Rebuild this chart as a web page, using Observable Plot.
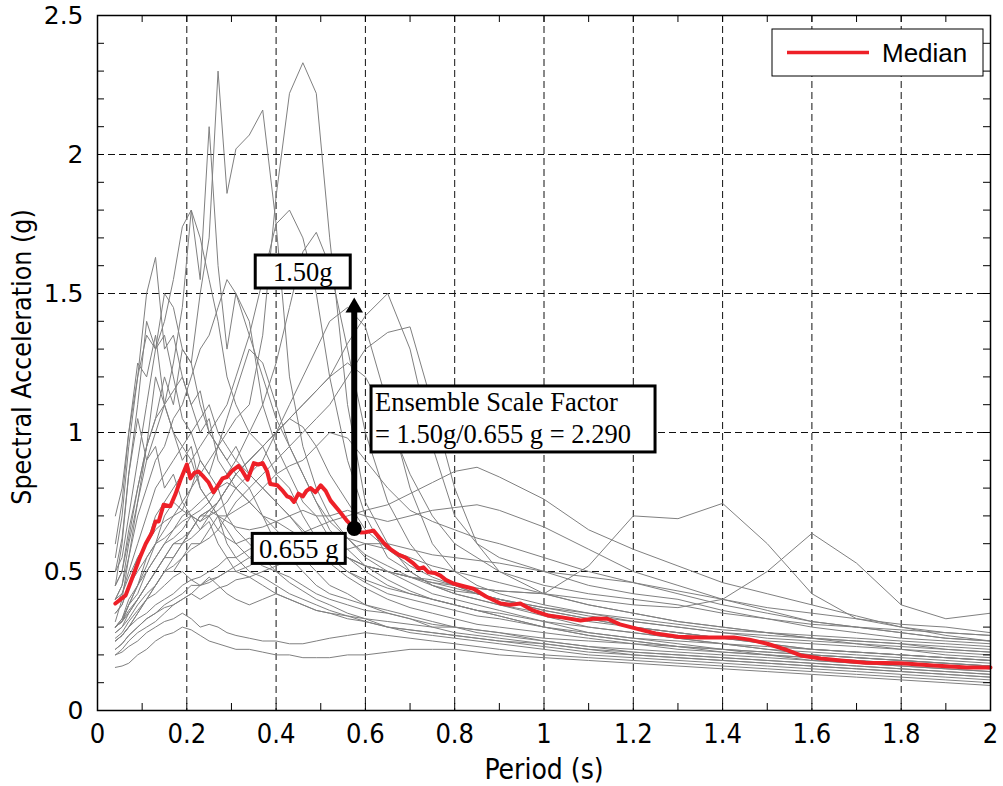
<!DOCTYPE html>
<html><head><meta charset="utf-8">
<script src="https://cdn.jsdelivr.net/npm/d3@7"></script>
<script src="https://cdn.jsdelivr.net/npm/@observablehq/plot@0.6"></script>
<style>
html,body{margin:0;padding:0;background:#fff;}
#chart svg{display:block;}
</style></head><body><div id="chart"></div>
<script>
// ---- data ----
const periods = [0.04,0.055,0.07,0.09,0.11,0.13,0.15,0.17,0.19,0.21,
 0.23,0.25,0.27,0.29,0.31,0.34,0.37,0.40,0.43,0.46,
 0.49,0.52,0.56,0.60,0.65,0.70,0.75,0.80,0.85,0.90,
 1.0,1.1,1.2,1.3,1.4,1.5,1.6,1.7,1.8,1.9,2.0];

const rec01 = [0.45,0.5,0.62,0.8,0.95,1.05,1.2,1.1,1.3,1.25,1.5,1.7,2.30,1.86,2.02,2.07,2.16,1.75,1.2,0.95,0.8,0.7,0.62,0.55,0.5,0.46,0.42,0.4,0.38,0.36,0.32,0.28,0.26,0.24,0.22,0.2,0.18,0.17,0.16,0.15,0.14];
const rec02 = [0.3,0.32,0.38,0.45,0.55,0.6,0.7,0.75,0.72,0.8,0.9,0.85,0.95,1.0,1.05,1.1,1.35,1.85,2.22,2.33,2.22,1.7,1.1,0.75,0.6,0.5,0.45,0.42,0.4,0.38,0.34,0.3,0.28,0.26,0.24,0.22,0.2,0.19,0.18,0.17,0.16];
const rec03 = [0.4,0.45,0.6,0.75,0.9,1.0,1.1,1.25,1.45,1.8,1.55,2.10,1.6,1.3,1.5,1.4,1.1,0.95,0.85,0.75,0.7,0.62,0.55,0.5,0.45,0.42,0.4,0.38,0.36,0.35,0.32,0.3,0.28,0.26,0.24,0.23,0.22,0.21,0.2,0.19,0.18];
const rec04 = [0.5,0.55,0.7,0.9,1.1,1.3,1.4,1.55,1.74,1.80,1.7,1.55,1.4,1.2,1.1,1.0,0.95,0.85,0.8,0.7,0.62,0.55,0.5,0.46,0.42,0.4,0.38,0.36,0.34,0.33,0.3,0.28,0.26,0.25,0.24,0.22,0.21,0.2,0.19,0.18,0.17];
const rec05 = [0.35,0.38,0.45,0.55,0.6,0.7,0.75,0.8,0.85,0.9,0.95,1.0,1.05,1.1,1.2,1.35,1.55,1.75,1.8,1.7,1.5,1.2,0.9,0.7,0.55,0.5,0.45,0.42,0.4,0.38,0.35,0.32,0.3,0.28,0.26,0.24,0.22,0.21,0.2,0.19,0.18];
const rec06 = [0.55,0.7,0.95,1.2,1.5,1.63,1.3,1.35,1.2,1.1,1.0,1.05,0.9,0.85,0.8,0.75,0.7,0.6,0.55,0.5,0.45,0.42,0.4,0.38,0.36,0.34,0.32,0.3,0.29,0.28,0.25,0.23,0.21,0.2,0.19,0.18,0.17,0.16,0.15,0.14,0.13];
const rec07 = [0.3,0.32,0.35,0.4,0.45,0.5,0.55,0.6,0.6,0.65,0.7,0.7,0.75,0.8,0.85,0.9,0.95,1.0,1.05,1.1,1.15,1.2,1.32,1.42,1.50,1.3,0.95,0.7,0.6,0.55,0.5,0.45,0.42,0.4,0.36,0.33,0.3,0.28,0.26,0.25,0.24];
const rec08 = [0.25,0.27,0.3,0.35,0.4,0.45,0.5,0.5,0.55,0.6,0.6,0.65,0.7,0.7,0.75,0.8,0.85,0.9,0.95,1.0,1.05,1.1,1.2,1.3,1.36,1.38,1.1,0.8,0.6,0.5,0.42,0.38,0.35,0.32,0.3,0.28,0.26,0.25,0.24,0.22,0.21];
const rec09 = [0.2,0.22,0.25,0.28,0.3,0.32,0.35,0.38,0.4,0.42,0.45,0.46,0.48,0.5,0.52,0.55,0.58,0.6,0.62,0.64,0.66,0.68,0.7,0.72,0.74,0.78,0.82,0.86,0.875,0.84,0.76,0.65,0.58,0.52,0.46,0.42,0.38,0.34,0.3,0.27,0.25];
const rec10 = [0.25,0.27,0.3,0.33,0.35,0.38,0.4,0.42,0.45,0.47,0.48,0.5,0.52,0.55,0.55,0.58,0.6,0.6,0.62,0.6,0.58,0.56,0.55,0.52,0.5,0.48,0.46,0.45,0.44,0.43,0.42,0.52,0.70,0.69,0.745,0.60,0.42,0.33,0.3,0.28,0.27];
const rec11 = [0.22,0.24,0.27,0.3,0.33,0.35,0.38,0.4,0.42,0.45,0.45,0.47,0.48,0.5,0.5,0.52,0.55,0.55,0.56,0.58,0.6,0.58,0.55,0.52,0.5,0.48,0.47,0.45,0.44,0.43,0.42,0.4,0.38,0.37,0.40,0.50,0.637,0.53,0.38,0.33,0.35];
const rec12 = [0.3,0.33,0.38,0.42,0.5,0.55,0.6,0.62,0.65,0.7,0.68,0.72,0.7,0.68,0.66,0.65,0.66,0.68,0.7,0.72,0.7,0.7,0.72,0.7,0.68,0.7,0.72,0.73,0.74,0.72,0.66,0.58,0.5,0.45,0.4,0.36,0.32,0.3,0.28,0.26,0.25];
const rec13 = [0.6,0.75,1.0,1.2,1.35,1.3,1.5,1.45,1.3,1.25,1.1,1.0,0.95,0.9,0.85,0.8,0.7,0.65,0.6,0.55,0.5,0.45,0.42,0.38,0.35,0.33,0.3,0.28,0.27,0.26,0.24,0.22,0.2,0.19,0.18,0.17,0.16,0.15,0.14,0.13,0.12];
const rec14 = [0.4,0.45,0.55,0.7,0.8,0.9,0.95,1.05,1.1,1.2,1.3,1.35,1.45,1.55,1.5,1.35,1.2,1.05,0.95,0.85,0.75,0.65,0.58,0.52,0.47,0.43,0.4,0.38,0.36,0.34,0.3,0.27,0.25,0.23,0.21,0.2,0.19,0.18,0.17,0.16,0.15];
const rec15 = [0.3,0.33,0.4,0.45,0.5,0.55,0.6,0.65,0.7,0.72,0.75,0.78,0.8,0.85,0.9,1.0,1.1,1.25,1.45,1.65,1.72,1.6,1.3,1.0,0.75,0.6,0.5,0.45,0.42,0.4,0.36,0.33,0.3,0.28,0.26,0.24,0.22,0.21,0.2,0.19,0.18];
const rec16 = [0.28,0.3,0.35,0.4,0.45,0.5,0.55,0.55,0.6,0.62,0.65,0.7,0.72,0.75,0.8,0.85,0.9,1.0,1.1,1.2,1.3,1.4,1.45,1.38,1.1,0.8,0.6,0.5,0.45,0.42,0.38,0.35,0.32,0.3,0.28,0.26,0.25,0.24,0.23,0.22,0.21];
const rec17 = [0.45,0.5,0.65,0.8,0.95,1.05,1.1,1.15,1.2,1.1,1.15,1.0,0.95,0.9,0.95,0.85,0.8,0.75,0.7,0.65,0.6,0.55,0.5,0.47,0.44,0.42,0.4,0.38,0.36,0.34,0.3,0.27,0.25,0.23,0.22,0.21,0.2,0.19,0.18,0.17,0.16];
const rec18 = [0.155,0.16,0.17,0.2,0.22,0.25,0.27,0.28,0.3,0.29,0.27,0.25,0.24,0.23,0.22,0.22,0.21,0.2,0.2,0.19,0.19,0.19,0.2,0.2,0.21,0.22,0.22,0.22,0.21,0.2,0.19,0.18,0.17,0.16,0.15,0.14,0.13,0.12,0.11,0.1,0.09];
const rec19 = [0.2,0.21,0.23,0.25,0.28,0.3,0.32,0.33,0.35,0.33,0.3,0.31,0.3,0.28,0.27,0.26,0.25,0.25,0.24,0.24,0.25,0.26,0.27,0.28,0.27,0.26,0.25,0.24,0.23,0.22,0.2,0.19,0.18,0.17,0.16,0.15,0.14,0.13,0.12,0.11,0.1];
const rec20 = [0.25,0.27,0.3,0.35,0.4,0.42,0.45,0.48,0.5,0.47,0.45,0.48,0.45,0.42,0.4,0.38,0.4,0.42,0.4,0.38,0.36,0.35,0.34,0.33,0.32,0.31,0.3,0.3,0.29,0.28,0.26,0.25,0.24,0.22,0.21,0.2,0.19,0.18,0.17,0.16,0.15];
const rec21 = [0.35,0.38,0.45,0.5,0.55,0.6,0.62,0.65,0.68,0.7,0.72,0.75,0.8,0.82,0.8,0.75,0.7,0.68,0.65,0.62,0.6,0.58,0.55,0.52,0.5,0.48,0.46,0.44,0.42,0.4,0.37,0.34,0.32,0.3,0.28,0.27,0.26,0.25,0.24,0.23,0.22];
const rec22 = [0.5,0.62,0.85,1.1,1.4,1.3,1.35,1.2,1.05,1.0,0.9,0.85,0.8,0.7,0.65,0.6,0.55,0.5,0.48,0.45,0.42,0.4,0.38,0.36,0.35,0.33,0.31,0.3,0.28,0.27,0.25,0.23,0.22,0.21,0.2,0.19,0.18,0.17,0.16,0.15,0.14];
const rec23 = [0.3,0.32,0.38,0.45,0.52,0.6,0.65,0.7,0.75,0.8,0.85,0.9,0.95,1.05,1.15,1.3,1.25,1.1,0.95,0.85,0.75,0.68,0.62,0.56,0.52,0.48,0.45,0.43,0.42,0.4,0.37,0.35,0.33,0.31,0.29,0.28,0.27,0.26,0.25,0.24,0.23];
const rec24 = [0.28,0.3,0.33,0.38,0.42,0.45,0.5,0.52,0.55,0.58,0.6,0.62,0.65,0.7,0.72,0.75,0.8,0.85,0.88,0.9,0.95,1.0,0.98,0.9,0.8,0.72,0.68,0.65,0.62,0.6,0.55,0.5,0.46,0.42,0.38,0.35,0.32,0.3,0.28,0.26,0.25];
const rec25 = [0.7,0.8,1.0,1.25,1.2,1.35,1.1,1.0,0.9,0.95,0.8,0.75,0.7,0.6,0.55,0.5,0.48,0.45,0.42,0.4,0.38,0.36,0.34,0.32,0.3,0.29,0.28,0.27,0.26,0.25,0.23,0.21,0.2,0.19,0.18,0.17,0.16,0.15,0.14,0.13,0.12];
const rec26 = [0.3,0.32,0.36,0.4,0.45,0.5,0.55,0.6,0.62,0.65,0.7,0.72,0.75,0.8,0.85,0.9,0.95,1.0,1.05,1.1,1.15,1.2,1.25,1.2,1.05,0.85,0.7,0.6,0.55,0.5,0.45,0.42,0.4,0.38,0.35,0.33,0.31,0.3,0.29,0.28,0.27];
const rec27 = [0.4,0.42,0.48,0.55,0.6,0.65,0.68,0.7,0.72,0.7,0.68,0.7,0.65,0.62,0.6,0.62,0.6,0.58,0.56,0.55,0.55,0.56,0.58,0.6,0.6,0.58,0.56,0.55,0.54,0.53,0.5,0.48,0.46,0.43,0.4,0.37,0.35,0.33,0.31,0.3,0.28];
const rec28 = [0.32,0.4,0.55,0.75,0.95,1.2,1.1,1.0,0.95,0.9,0.8,0.75,0.7,0.65,0.6,0.55,0.52,0.5,0.46,0.43,0.4,0.38,0.35,0.33,0.3,0.28,0.27,0.26,0.25,0.24,0.22,0.2,0.19,0.18,0.17,0.16,0.15,0.14,0.13,0.12,0.11];
const rec29 = [0.26,0.28,0.32,0.36,0.4,0.45,0.5,0.55,0.6,0.65,0.7,0.72,0.75,0.8,0.85,0.9,0.95,1.0,1.05,1.02,0.95,0.85,0.75,0.65,0.58,0.52,0.48,0.45,0.42,0.4,0.36,0.33,0.3,0.28,0.26,0.25,0.24,0.23,0.22,0.21,0.2];
const rec30 = [0.38,0.42,0.5,0.6,0.7,0.8,0.85,0.9,0.95,1.0,1.05,1.1,1.0,0.95,0.9,0.85,0.8,0.75,0.7,0.64,0.58,0.53,0.48,0.44,0.4,0.37,0.35,0.33,0.31,0.3,0.28,0.26,0.24,0.23,0.22,0.21,0.2,0.19,0.18,0.17,0.16];
const rec31 = [0.22,0.24,0.27,0.3,0.33,0.35,0.37,0.38,0.4,0.42,0.4,0.42,0.44,0.45,0.47,0.48,0.5,0.52,0.54,0.56,0.58,0.6,0.62,0.6,0.58,0.55,0.52,0.5,0.48,0.46,0.42,0.38,0.35,0.32,0.3,0.28,0.26,0.24,0.22,0.2,0.19];
const rec32 = [0.45,0.6,0.85,1.05,0.9,0.95,0.8,0.85,0.75,0.7,0.65,0.68,0.6,0.55,0.5,0.48,0.45,0.42,0.4,0.38,0.36,0.35,0.33,0.32,0.3,0.29,0.28,0.27,0.26,0.25,0.24,0.22,0.21,0.2,0.19,0.18,0.17,0.16,0.15,0.14,0.13];

const records = [rec01,rec02,rec03,rec04,rec05,rec06,rec07,rec08,rec09,rec10,rec11,rec12,rec13,rec14,rec15,rec16,
  rec17,rec18,rec19,rec20,rec21,rec22,rec23,rec24,rec25,rec26,rec27,rec28,rec29,rec30,rec31,rec32];

const medianPeriods = [0.04,0.063,0.081,0.095,0.108,0.122,0.13,0.137,0.148,0.163,0.175,0.186,0.2,0.208,0.217,0.226,0.238,0.249,0.26,0.27,
 0.28,0.29,0.302,0.316,0.325,0.336,0.35,0.36,0.37,0.38,0.387,0.403,0.415,0.425,0.432,0.44,0.45,0.46,0.468,0.477,
 0.488,0.5,0.511,0.522,0.54,0.56,0.575,0.59,0.6,0.618,0.64,0.656,0.675,0.69,0.708,0.72,0.73,0.741,0.755,0.768,
 0.78,0.797,0.82,0.842,0.87,0.903,0.925,0.947,0.975,1.008,1.04,1.082,1.11,1.142,1.17,1.194,1.25,1.3,1.35,1.425,
 1.46,1.5,1.54,1.575,1.62,1.664,1.72,1.8,1.872,1.948,2.0];
const medianSA = [0.385,0.414,0.49,0.55,0.60,0.64,0.68,0.68,0.74,0.735,0.78,0.83,0.885,0.835,0.855,0.86,0.84,0.82,0.785,0.81,
 0.835,0.84,0.863,0.88,0.86,0.83,0.89,0.885,0.89,0.86,0.815,0.81,0.79,0.77,0.766,0.75,0.78,0.77,0.79,0.80,
 0.785,0.81,0.79,0.755,0.72,0.68,0.655,0.64,0.641,0.647,0.605,0.58,0.56,0.55,0.528,0.51,0.515,0.497,0.495,0.485,
 0.47,0.457,0.447,0.438,0.41,0.385,0.38,0.385,0.36,0.342,0.335,0.324,0.33,0.33,0.31,0.30,0.277,0.265,0.263,0.263,
 0.255,0.24,0.22,0.198,0.187,0.18,0.172,0.17,0.162,0.155,0.155];

const xMajorTicks = [0,0.2,0.4,0.6,0.8,1,1.2,1.4,1.6,1.8,2];
const xTickLabels = ["0","0.2","0.4","0.6","0.8","1","1.2","1.4","1.6","1.8","2"];
const xMinorTicks = [0.1,0.2,0.3,0.4,0.5,0.6,0.7,0.8,0.9,1.0,1.1,1.2,1.3,1.4,1.5,1.6,1.7,1.8,1.9];
const yMajorTicks = [0,0.5,1,1.5,2,2.5];
const yTickLabels = ["0","0.5","1","1.5","2","2.5"];
const yMinorTicks = [0.1,0.2,0.3,0.4,0.5,0.6,0.7,0.8,0.9,1.0,1.1,1.2,1.3,1.4,1.5,1.6,1.7,1.8,1.9,2.0,2.1,2.2,2.3,2.4];

const targetSA = 1.50;      // target spectral acceleration
const medianAtT = 0.655;    // median of ensemble at period T
const periodT = 0.575;      // period of interest
const scaleFactor = "2.290";

// ---- layout ----
const W = 1003, H = 786, mL = 97, mR = 13, mT = 15, mB = 76;
const innerW = W - mL - mR, innerH = H - mT - mB;
const sans = "'Liberation Sans', Arial, Helvetica, sans-serif";
const narrow = "'Liberation Sans Narrow', 'Arial Narrow', 'DejaVu Sans Condensed', sans-serif";
const wide = "'DejaVu Sans', Verdana, sans-serif";
const serif = "'Liberation Serif', 'Times New Roman', serif";

const recordRows = records.flatMap((r, i) => r.map((v, j) => ({rec: i, T: periods[j], SA: v})));
const medianRows = medianPeriods.map((t, i) => ({T: t, SA: medianSA[i]}));

const fig = Plot.plot({
  width: W, height: H,
  marginLeft: mL, marginRight: mR, marginTop: mT, marginBottom: mB,
  x: {domain: [0, 2], axis: null},
  y: {domain: [0, 2.5], axis: null},
  style: {background: "white", overflow: "visible"},
  marks: [
    Plot.ruleX(xMajorTicks.slice(1, -1), {x: d => d, stroke: "#111", strokeWidth: 1, strokeDasharray: "7,4"}),
    Plot.ruleY(yMajorTicks.slice(1, -1), {y: d => d, stroke: "#111", strokeWidth: 1, strokeDasharray: "7,4"}),
    Plot.line(recordRows, {x: "T", y: "SA", z: "rec", stroke: "#808080", strokeWidth: 1}),
    Plot.line(medianRows, {x: "T", y: "SA", stroke: "#ee2028", strokeWidth: 4, strokeLinejoin: "round"}),
    Plot.tickX(xMinorTicks, {x: d => d, insetTop: innerH - 7, stroke: "black", strokeWidth: 1}),
    Plot.tickX(xMinorTicks, {x: d => d, insetBottom: innerH - 7, stroke: "black", strokeWidth: 1}),
    Plot.tickY(yMinorTicks, {y: d => d, insetRight: innerW - 7, stroke: "black", strokeWidth: 1}),
    Plot.tickY(yMinorTicks, {y: d => d, insetLeft: innerW - 7, stroke: "black", strokeWidth: 1}),
    Plot.frame({stroke: "black", strokeWidth: 1.5}),
    // arrow from median to target
    Plot.ruleX([periodT], {x: d => d, y1: targetSA, y2: medianAtT, stroke: "black", strokeWidth: 6, insetTop: 14}),
    Plot.dot([periodT], {x: d => d, y: targetSA, symbol: "triangle", r: 6.5, fill: "black", stroke: "none", dy: 14}),
    Plot.dot([periodT], {x: d => d, y: medianAtT, r: 7.5, fill: "black", stroke: "none"}),
    // tick labels
    Plot.text(xTickLabels, {x: (d, i) => xMajorTicks[i], text: d => d, frameAnchor: "bottom", dy: 24,
      lineAnchor: "middle", textAnchor: "middle", fontFamily: narrow, fontSize: 27, fill: "black"}),
    Plot.text(yTickLabels, {y: (d, i) => yMajorTicks[i], text: d => d, frameAnchor: "left", dx: -14, textAnchor: "end",
      lineAnchor: "middle", fontFamily: wide, fontSize: 25, fill: "black"}),
    // axis titles
    Plot.text(["Period (s)"], {text: d => d, frameAnchor: "bottom", dy: 60, lineAnchor: "middle", textAnchor: "middle",
      fontFamily: narrow, fontSize: 28, fill: "black"}),
    Plot.text(["Spectral Acceleration (g)"], {text: d => d, frameAnchor: "left", dx: -75, dy: -6, rotate: -90,
      lineAnchor: "middle", textAnchor: "middle", fontFamily: narrow, fontSize: 26.5, fill: "black"})
  ]
});
document.getElementById("chart").append(fig);

// ---- annotations & legend (positioned through the plot's scales) ----
const sx = fig.scale("x"), sy = fig.scale("y");
const svg = d3.select(fig);
const ann = svg.append("g").attr("class", "annotations");

function labelBox(cx, cy, w, h, lines, anchor, tx, baselines) {
  const g = ann.append("g");
  g.append("rect").attr("x", cx - w / 2).attr("y", cy - h / 2).attr("width", w).attr("height", h)
    .attr("fill", "white").attr("stroke", "black").attr("stroke-width", 3);
  lines.forEach((s, i) => {
    g.append("text").attr("x", tx).attr("y", baselines[i]).attr("text-anchor", anchor)
      .attr("font-family", serif).attr("font-size", 26.5).attr("fill", "black").text(s);
  });
}
const px = sx.apply(periodT);
const pyTarget = sy.apply(targetSA);
const pyMedian = sy.apply(medianAtT);
const pyMid = sy.apply((targetSA + medianAtT) / 2);

labelBox(px - 51, pyTarget - 21.5, 95, 33, [targetSA.toFixed(2) + "g"], "middle", px - 51, [pyTarget - 21.5 + 9.5]);
labelBox(px - 55, pyMedian + 20.5, 93, 30, [medianAtT + " g"], "middle", px - 55, [pyMedian + 20.5 + 9.5]);
{
  const left = px + 17.3, w = 284, h = 66, cy = pyMid + 8.5, top = cy - h / 2;
  labelBox(left + w / 2, cy, w, h,
    ["Ensemble Scale Factor", "= " + targetSA.toFixed(2) + "g/" + medianAtT + " g = " + scaleFactor],
    "start", left + 4, [top + 25.5, top + 57]);
}
// keep the median dot and arrow above the boxes
svg.selectAll('g[aria-label="dot"]').raise();

// legend
const legRight = W - mR - 7, legTop = mT + 14, legW = 211, legH = 47;
const leg = svg.append("g").attr("class", "legend");
leg.append("rect").attr("x", legRight - legW).attr("y", legTop).attr("width", legW).attr("height", legH)
  .attr("fill", "white").attr("stroke", "black").attr("stroke-width", 1);
leg.append("line").attr("x1", legRight - legW + 15).attr("x2", legRight - legW + 97)
  .attr("y1", legTop + 23.5).attr("y2", legTop + 23.5).attr("stroke", "#ee2028").attr("stroke-width", 3.5);
leg.append("text").attr("x", legRight - legW + 110).attr("y", legTop + 33).attr("text-anchor", "start")
  .attr("font-family", sans).attr("font-size", 26).attr("fill", "black").text("Median");
</script></body></html>
